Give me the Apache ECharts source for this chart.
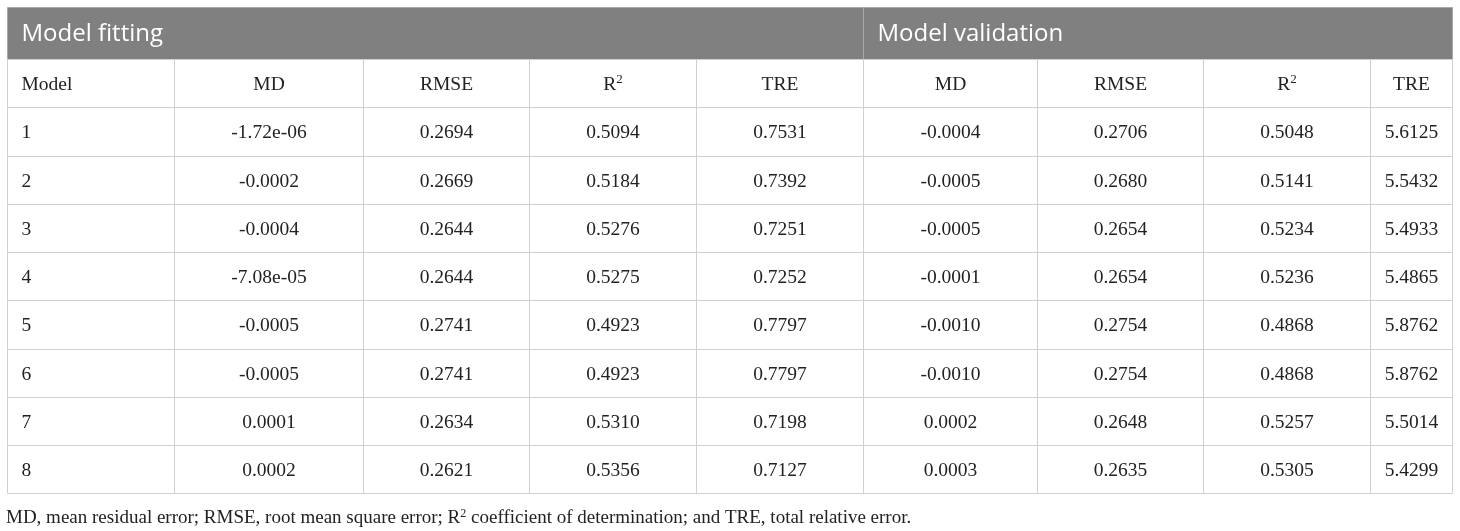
<!DOCTYPE html>
<html>
<head>
<meta charset="utf-8">
<script src="https://cdn.jsdelivr.net/npm/echarts@6/dist/echarts.min.js"></script>
<style>
  html, body { margin: 0; padding: 0; background: #fff; }
  #main { width: 1460px; height: 531px; }
</style>
</head>
<body>
<div id="main"></div>
<script>
// table data
var groups = ['Model fitting', 'Model validation'];
var metrics = ['MD', 'RMSE', 'R{sup|2}', 'TRE'];
var models = ['1', '2', '3', '4', '5', '6', '7', '8'];

var fitMD   = [-1.72e-06, -0.0002, -0.0004, -7.08e-05, -0.0005, -0.0005, 0.0001, 0.0002];
var fitRMSE = [0.2694, 0.2669, 0.2644, 0.2644, 0.2741, 0.2741, 0.2634, 0.2621];
var fitR2   = [0.5094, 0.5184, 0.5276, 0.5275, 0.4923, 0.4923, 0.5310, 0.5356];
var fitTRE  = [0.7531, 0.7392, 0.7251, 0.7252, 0.7797, 0.7797, 0.7198, 0.7127];

var valMD   = [-0.0004, -0.0005, -0.0005, -0.0001, -0.0010, -0.0010, 0.0002, 0.0003];
var valRMSE = [0.2706, 0.2680, 0.2654, 0.2654, 0.2754, 0.2754, 0.2648, 0.2635];
var valR2   = [0.5048, 0.5141, 0.5234, 0.5236, 0.4868, 0.4868, 0.5257, 0.5305];
var valTRE  = [5.6125, 5.5432, 5.4933, 5.4865, 5.8762, 5.8762, 5.5014, 5.4299];

var footnote = 'MD, mean residual error; RMSE, root mean square error; R{sup|2} coefficient of determination; and TRE, total relative error.';

// layout (pixels inside the table)
var colW = [167, 189, 166, 167, 167, 174, 166, 167, 82];
var bandH = 52, rowH = 48.25;

function fmt(v) {
    if (v !== 0 && Math.abs(v) < 1e-4) {
        // -1.72e-6 -> -1.72e-06
        return v.toExponential(2).replace(/e([+-])(\d)$/, 'e$10$2');
    }
    return v.toFixed(4);
}

var colEdge = [0];
colW.forEach(function (w) { colEdge.push(colEdge[colEdge.length - 1] + w); });
var tableW = colEdge[colEdge.length - 1];
var rowEdge = [0, bandH];
for (var r = 0; r < models.length + 1; r++) rowEdge.push(bandH + rowH * (r + 1));
var tableH = rowEdge[rowEdge.length - 1];

// build cells: [x0, x1, y0, y1] plus text info
var cells = [];
function addCell(c0, c1, r, text, kind) {
    cells.push({ box: [colEdge[c0], colEdge[c1], rowEdge[r], rowEdge[r + 1]], text: text, kind: kind });
}
addCell(0, 5, 0, groups[0], 'band');
addCell(5, 9, 0, groups[1], 'band');
addCell(0, 1, 1, 'Model', 'left');
metrics.forEach(function (m, i) { addCell(1 + i, 2 + i, 1, m, 'center'); });
metrics.forEach(function (m, i) { addCell(5 + i, 6 + i, 1, m, 'center'); });
var cols = [fitMD, fitRMSE, fitR2, fitTRE, valMD, valRMSE, valR2, valTRE];
models.forEach(function (m, i) {
    addCell(0, 1, i + 2, m, 'left');
    cols.forEach(function (arr, j) { addCell(j + 1, j + 2, i + 2, fmt(arr[i]), 'center'); });
});

var serif = '"Liberation Serif", "DejaVu Serif", serif';
var sans = '"Open Sans", "Noto Sans", sans-serif';

var myChart = echarts.init(document.getElementById('main'));
var option = {
    animation: false,
    title: {
        text: footnote,
        left: 1,
        top: 503,
        textStyle: {
            fontFamily: serif, fontSize: 19, fontWeight: 'normal', color: '#222',
            rich: { sup: { fontFamily: serif, fontSize: 12, color: '#222', verticalAlign: 'top', padding: [0, 0, 9, 0] } }
        }
    },
    grid: { left: 7, top: 7, width: tableW, height: tableH },
    xAxis: { type: 'value', min: 0, max: tableW, show: false },
    yAxis: { type: 'value', min: 0, max: tableH, inverse: true, show: false },
    series: [{
        type: 'custom',
        coordinateSystem: 'cartesian2d',
        data: cells.map(function (c) { return c.box; }),
        renderItem: function (params, api) {
            var cell = cells[params.dataIndex];
            var p0 = api.coord([api.value(0), api.value(2)]);
            var p1 = api.coord([api.value(1), api.value(3)]);
            var x = Math.round(p0[0]) + 0.5, y = Math.round(p0[1]) + 0.5;
            var w = Math.round(p1[0]) - Math.round(p0[0]);
            var h = Math.round(p1[1]) - Math.round(p0[1]);
            var band = cell.kind === 'band';
            var children = [{
                type: 'rect',
                shape: { x: x, y: y, width: w, height: h },
                style: { fill: band ? '#808080' : '#fff', stroke: band ? '#a8a8a8' : '#cfcfcf', lineWidth: 1 }
            }, {
                type: 'text',
                style: {
                    text: cell.text,
                    x: cell.kind === 'center' ? x + w / 2 : x + 14,
                    y: y + h / 2 + 1,
                    align: cell.kind === 'center' ? 'center' : 'left',
                    verticalAlign: 'middle',
                    fontFamily: band ? sans : serif,
                    fontSize: band ? 24 : 19.5,
                    fill: band ? '#fff' : '#222',
                    rich: {
                        sup: { fontFamily: serif, fontSize: 13, fill: '#222', verticalAlign: 'top', padding: [0, 0, 9, 0] }
                    }
                }
            }];
            return { type: 'group', children: children };
        }
    }]
};
myChart.setOption(option);
</script>
</body>
</html>
